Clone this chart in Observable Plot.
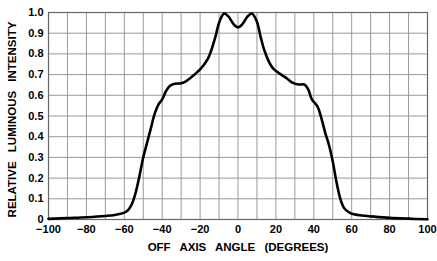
<!DOCTYPE html>
<html>
<head>
<meta charset="utf-8">
<script src="https://cdn.jsdelivr.net/npm/d3@7"></script>
<script src="https://cdn.jsdelivr.net/npm/@observablehq/plot@0.6"></script>
<style>
  html, body { margin: 0; padding: 0; background: #fff; }
  #chart svg { display: block; }
</style>
</head>
<body>
<div id="chart"></div>
<script>
const angles = [-100, -90, -80, -70, -65, -60, -58, -56, -54, -52, -50, -48, -46, -44, -42, -40, -38, -36, -34, -30, -28, -25, -20, -16, -14, -12, -10, -8, -7, -5, -2, 0, 2, 5, 7, 8, 10, 12, 14, 17, 19, 22, 26, 29, 32, 35, 37, 39, 42, 44, 46, 48, 50, 52, 54, 56, 58, 60, 70, 80, 90, 100];
const intensity = [0.003, 0.007, 0.011, 0.017, 0.022, 0.033, 0.045, 0.075, 0.13, 0.21, 0.30, 0.37, 0.44, 0.51, 0.555, 0.58, 0.62, 0.645, 0.655, 0.658, 0.665, 0.685, 0.725, 0.775, 0.82, 0.88, 0.95, 0.99, 0.995, 0.98, 0.94, 0.928, 0.94, 0.98, 0.995, 0.99, 0.955, 0.88, 0.815, 0.75, 0.725, 0.705, 0.68, 0.66, 0.652, 0.652, 0.63, 0.58, 0.545, 0.49, 0.42, 0.36, 0.28, 0.18, 0.10, 0.055, 0.038, 0.028, 0.015, 0.008, 0.004, 0.001];
const xTicks = [-100, -80, -60, -40, -20, 0, 20, 40, 60, 80, 100];
const yTicks = [0, 0.1, 0.2, 0.3, 0.4, 0.5, 0.6, 0.7, 0.8, 0.9, 1.0];
const xGrid = d3.range(-100, 101, 10);
const xTitle = "OFF AXIS ANGLE (DEGREES)";
const yTitle = "RELATIVE LUMINOUS INTENSITY";

const data = angles.map((a, i) => ({angle: a, value: intensity[i]}));

const plot = Plot.plot({
  width: 437,
  height: 261,
  marginLeft: 48,
  marginRight: 10,
  marginTop: 12,
  marginBottom: 42,
  style: {fontFamily: "'Liberation Sans', Arial, sans-serif", fontSize: "11px", fontWeight: "bold", background: "#fff", color: "#000"},
  x: {domain: [-100, 100]},
  y: {domain: [0, 1]},
  marks: [
    Plot.gridX(xGrid, {stroke: "#999", strokeOpacity: 1}),
    Plot.gridY(yTicks, {stroke: "#999", strokeOpacity: 1}),
    Plot.frame({stroke: "#666", strokeWidth: 1.2}),
    Plot.axisX(xTicks, {tickSize: 0, tickPadding: 6, label: null, fill: "#000"}),
    Plot.axisY(yTicks, {tickSize: 0, tickPadding: 5, label: null, fill: "#000", tickFormat: d => d === 0 ? "0" : d.toFixed(1)}),
    Plot.line(data, {x: "angle", y: "value", curve: "catmull-rom", stroke: "#000", strokeWidth: 2.6}),
    Plot.text([xTitle], {frameAnchor: "bottom", dy: 31, text: d => d, fontSize: 11.5, fontWeight: "bold", fill: "#000"}),
    Plot.text([yTitle], {frameAnchor: "left", textAnchor: "middle", dx: -36, dy: 3.5, rotate: -90, text: d => d, fontSize: 11.5, fontWeight: "bold", fill: "#000"})
  ]
});

d3.select(plot).selectAll("text").each(function() {
  const t = this.textContent;
  if (t === xTitle || t === yTitle) d3.select(this).style("word-spacing", "6px");
});

document.getElementById("chart").appendChild(plot);
</script>
</body>
</html>
